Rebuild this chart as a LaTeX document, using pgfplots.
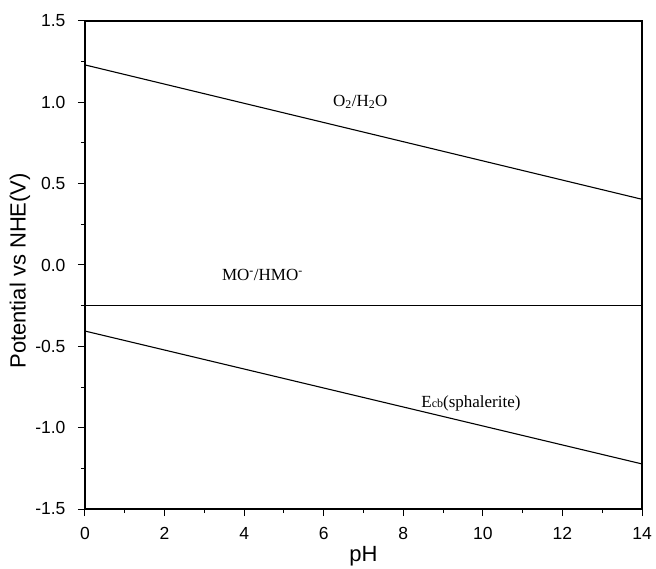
\documentclass[border=0pt]{standalone}
\usepackage{pgfplots}
\pgfplotsset{compat=1.18}
\usepackage{fontspec}
\setmainfont{Liberation Sans}
\newfontfamily\serif{Liberation Serif}

\begin{document}
\begin{tikzpicture}[x=1pt,y=1pt]
% page frame around the plotting area
\path[use as bounding box] (-85,-59) rectangle (571,509);
\begin{axis}[
  at={(0,0)}, anchor=south west,
  scale only axis,
  width=557pt, height=488pt,
  xmin=0, xmax=14, ymin=-1.5, ymax=1.5,
  xtick={0,2,...,14},
  minor xtick={1,3,...,13},
  ytick={-1.5,-1,...,1.5},
  yticklabels={-1.5,-1.0,-0.5,0.0,0.5,1.0,1.5},
  minor ytick={-1.25,-0.75,-0.25,0.25,0.75,1.25},
  xtick pos=bottom, ytick pos=left,
  tick align=outside,
  major tick length=7pt, minor tick length=4pt,
  every tick/.style={line width=1pt, black},
  axis line style={line width=1.4pt},
  tick label style={font=\fontsize{17.5}{20}\selectfont},
  /pgf/number format/assume math mode=true,
  xticklabel style={yshift=-8pt},
  yticklabel style={xshift=-9pt},
  xlabel={pH},
  ylabel={Potential vs NHE(V)},
  label style={font=\fontsize{22}{26}\selectfont},
  xlabel style={at={(axis description cs:0.5,-0.1086)}, anchor=base},
  ylabel style={at={(axis description cs:-0.1167,0.488)}, anchor=center},
  clip=false,
]
% water oxidation level
\addplot[black, line width=1.1pt] coordinates {(0,1.23) (14,0.404)};
% redox couple of the collector
\addplot[black, line width=0.9pt] coordinates {(0,-0.246) (14,-0.246)};
% conduction band edge of sphalerite
\addplot[black, line width=1.1pt] coordinates {(0,-0.406) (14,-1.223)};

\node[anchor=base west, inner sep=0pt, font=\serif\fontsize{17}{20}\selectfont]
  at (axis cs:6.23,0.977) {O\textsubscript{2}/H\textsubscript{2}O};
\node[anchor=base west, inner sep=0pt, font=\serif\fontsize{17}{20}\selectfont]
  at (axis cs:3.44,-0.098) {MO\textsuperscript{\textbf{-}}/HMO\textsuperscript{-}};
\node[anchor=base west, inner sep=0pt, font=\serif\fontsize{17}{20}\selectfont]
  at (axis cs:8.45,-0.873) {E{\fontsize{12}{13}\selectfont cb}(sphalerite)};
\end{axis}
\end{tikzpicture}
\end{document}
